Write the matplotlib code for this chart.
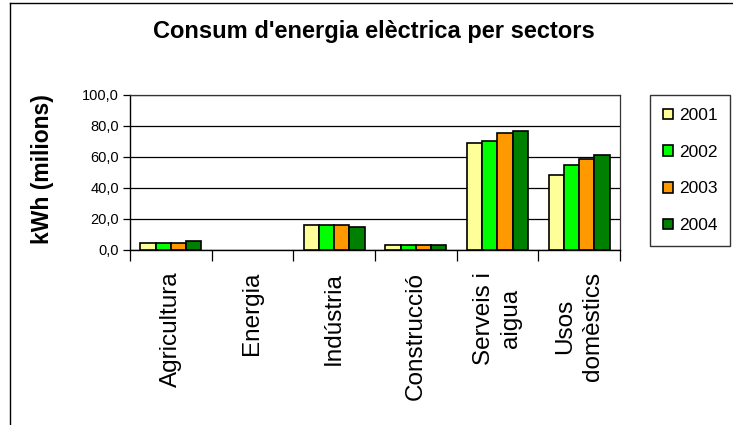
import matplotlib.pyplot as plt
import numpy as np
from matplotlib.lines import Line2D
from matplotlib.ticker import FixedLocator, FuncFormatter

plt.rcParams['font.family'] = ['Liberation Sans', 'DejaVu Sans']

# Data
sectors = ['Agricultura', 'Energia', 'Indústria', 'Construcció', 'Serveis i\naigua', 'Usos\ndomèstics']
years = ['2001', '2002', '2003', '2004']
v2001 = [4.4, 0.0, 15.9, 3.0, 69.1, 48.2]
v2002 = [4.4, 0.0, 15.9, 3.0, 70.2, 54.7]
v2003 = [4.4, 0.0, 15.9, 3.0, 75.6, 58.6]
v2004 = [5.5, 0.0, 14.8, 3.0, 76.7, 61.2]
series = [v2001, v2002, v2003, v2004]
colors = ['#FFFF99', '#00FF00', '#FF9900', '#008000']

fig = plt.figure(figsize=(7.33, 4.25), dpi=100)
ax = fig.add_axes([130 / 733, 1 - 249.5 / 425, 490 / 733, 154.5 / 425])

x = np.arange(len(sectors))
w = 0.1875
handles = []
for i, (vals, col) in enumerate(zip(series, colors)):
    vals = np.array(vals, dtype=float)
    vals[vals == 0] = np.nan   # empty sectors draw nothing
    b = ax.bar(x - 0.375 + w * (i + 0.5), vals, w, color=col, edgecolor='black',
               linewidth=1.2, zorder=3, label=years[i])
    handles.append(b)

ax.set_xlim(-0.5, len(sectors) - 0.5)
ax.set_ylim(0, 100)
ax.set_yticks([0, 20, 40, 60, 80, 100])
ax.yaxis.set_major_formatter(FuncFormatter(lambda v, p: f'{v:.1f}'.replace('.', ',')))
ax.yaxis.grid(True, color='black', linewidth=0.9, zorder=0)
ax.tick_params(axis='y', direction='out', length=5, width=0.9, labelsize=10.5, pad=3)

ax.set_xticks(x)
ax.set_xticklabels(sectors, rotation=90, fontsize=17.5, linespacing=1.3)
ax.tick_params(axis='x', which='major', length=0, pad=16)
ax.xaxis.set_minor_locator(FixedLocator(np.arange(-0.5, len(sectors), 1.0)))
ax.tick_params(axis='x', which='minor', direction='out', length=8, width=0.9)

for s in ['left', 'bottom']:
    ax.spines[s].set_color('black')
    ax.spines[s].set_linewidth(1.0)
for s in ['top', 'right']:
    ax.spines[s].set_color('#333333')
    ax.spines[s].set_linewidth(0.9)

fig.text(0.510, 0.925, "Consum d'energia elèctrica per sectors", ha='center', va='center',
         fontsize=17, fontweight='bold')
fig.text(43 / 733, 0.602, 'kWh (milions)', rotation=90, ha='center', va='center',
         fontsize=16.5, fontweight='bold')

leg = fig.legend(handles=handles, loc='upper left', bbox_to_anchor=(650 / 733, 1 - 95 / 425),
                 frameon=True, fancybox=False, edgecolor='black', fontsize=12.5,
                 handlelength=0.55, handleheight=0.55, handletextpad=0.35,
                 labelspacing=1.25, borderpad=0.75, borderaxespad=0)
leg.get_frame().set_linewidth(1.0)

# outer chart border
fig.add_artist(Line2D([10 / 733, 10 / 733], [0, 1 - 3 / 425], color='black', linewidth=1.0))
fig.add_artist(Line2D([10 / 733, 1], [1 - 3 / 425, 1 - 3 / 425], color='black', linewidth=1.0))

fig.savefig('out.png', dpi=100)
